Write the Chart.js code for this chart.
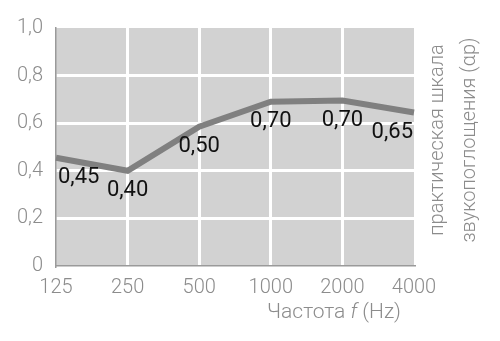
<!DOCTYPE html>
<html>
<head>
<meta charset="utf-8">
<script src="https://cdn.jsdelivr.net/npm/chart.js@4"></script>
<style>
  html, body { margin: 0; padding: 0; background: #fff; }
  #wrap { width: 500px; height: 341px; }
</style>
</head>
<body>
<div id="wrap"><canvas id="chart" width="500" height="341"></canvas></div>
<script>
const FONT = 'Roboto, "Liberation Sans", sans-serif';

// data
const categories = ['125', '250', '500', '1000', '2000', '4000'];
const absorption = [0.455, 0.40, 0.585, 0.69, 0.695, 0.645];
const valueLabels = ['0,45', '0,40', '0,50', '0,70', '0,70', '0,65'];
const yTicks = [0, 0.2, 0.4, 0.6, 0.8, 1.0];
const yTitleLines = ['практическая шкала', 'звукопоглощения (αp)'];

/* === PLUGINS === */
const plotBg = {
  id: 'plotBg',
  beforeDraw(chart) {
    const { ctx, chartArea: a } = chart;
    ctx.save();
    ctx.fillStyle = '#d2d2d2';
    ctx.fillRect(a.left, a.top, a.right - a.left, a.bottom - a.top);
    ctx.restore();
  }
};

const pointLabels = {
  id: 'pointLabels',
  afterDatasetsDraw(chart) {
    const { ctx } = chart;
    const pts = chart.getDatasetMeta(0).data;
    ctx.save();
    ctx.font = '22px ' + FONT;
    ctx.fillStyle = '#111';
    ctx.textBaseline = 'middle';
    pts.forEach((p, i) => {
      let x = p.x;
      ctx.textAlign = 'center';
      if (i === 0) { ctx.textAlign = 'left'; x += 2; }
      if (i === pts.length - 1) { ctx.textAlign = 'right'; x -= 1; }
      ctx.fillText(valueLabels[i], x, p.y + 20);
    });
    ctx.restore();
  }
};

const titles = {
  id: 'titles',
  afterDraw(chart) {
    const { ctx, chartArea: a } = chart;
    ctx.save();
    ctx.fillStyle = '#8c8c8c';
    // right vertical title, reads bottom to top
    ctx.font = '300 20px ' + FONT;
    ctx.textAlign = 'center';
    ctx.textBaseline = 'middle';
    ctx.translate(a.right + 24, (a.top + a.bottom) / 2 - 7);
    ctx.rotate(-Math.PI / 2);
    yTitleLines.forEach((t, i) => ctx.fillText(t, 0, i * 32));
    ctx.restore();

    // x title with italic f
    ctx.save();
    ctx.fillStyle = '#8c8c8c';
    ctx.textBaseline = 'middle';
    ctx.textAlign = 'left';
    const parts = [['Частота ', '300 21px ' + FONT], ['f', 'italic 300 21px ' + FONT], [' (Hz)', '300 21px ' + FONT]];
    let total = 0;
    parts.forEach(([t, f]) => { ctx.font = f; total += ctx.measureText(t).width; });
    let x = 334 - total / 2;
    parts.forEach(([t, f]) => {
      ctx.font = f;
      ctx.fillText(t, x, 313);
      x += ctx.measureText(t).width;
    });
    ctx.restore();
  }
};

/* === CHART === */
new Chart(document.getElementById('chart').getContext('2d'), {
  type: 'line',
  data: {
    labels: categories,
    datasets: [{
      data: absorption,
      borderColor: '#808080',
      borderWidth: 6,
      pointRadius: 0,
      tension: 0,
      fill: false
    }]
  },
  options: {
    responsive: false,
    animation: false,
    layout: { padding: { top: 28, right: 86, left: 0, bottom: 0 } },
    plugins: { legend: { display: false }, tooltip: { enabled: false } },
    scales: {
      x: {
        offset: false,
        afterFit: s => { s.height = 75; },
        grid: {
          color: c => (c.index === 0 || c.index === categories.length - 1) ? 'rgba(0,0,0,0)' : '#ffffff',
          lineWidth: 3,
          drawTicks: false
        },
        border: { display: true, color: '#9a9a9a', width: 1.5 },
        ticks: {
          color: '#8c8c8c',
          font: { family: FONT, size: 20, weight: 300 },
          padding: 10,
          maxRotation: 0,
          autoSkip: false
        }
      },
      y: {
        min: 0,
        max: 1,
        afterFit: s => { s.width = 56; },
        afterBuildTicks: s => { s.ticks = yTicks.map(v => ({ value: v })); },
        grid: {
          color: c => (c.tick && (c.tick.value === 0 || c.tick.value === 1)) ? 'rgba(0,0,0,0)' : '#ffffff',
          lineWidth: 3,
          drawTicks: false
        },
        border: { display: true, color: '#9a9a9a', width: 1.5 },
        ticks: {
          color: '#8c8c8c',
          font: { family: FONT, size: 20, weight: 300 },
          padding: 13,
          callback: v => v === 0 ? '0' : v.toFixed(1).replace('.', ',')
        }
      }
    }
  },
  plugins: [plotBg, pointLabels, titles]
});
</script>
</body>
</html>
